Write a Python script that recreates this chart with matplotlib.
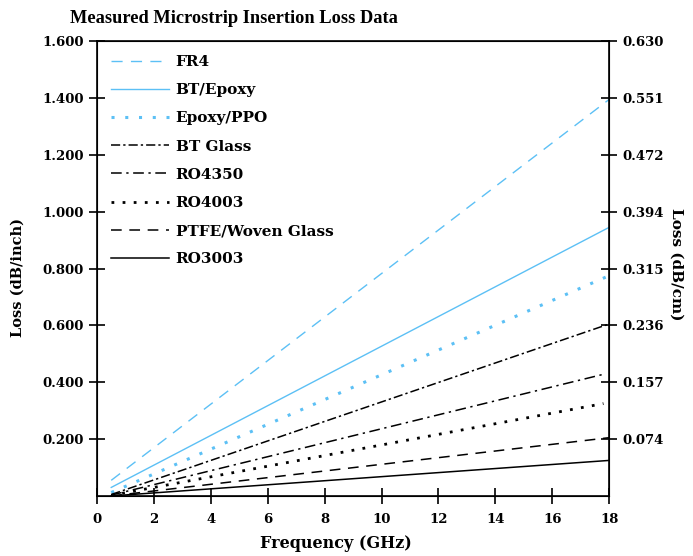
import matplotlib
matplotlib.use("Agg")
import matplotlib.pyplot as plt

# frequency points (GHz) and measured loss (dB/inch)
freq = [0.5, 18.0]
freq_short = [0.5, 17.8]

fr4 = [0.055, 1.395]
bt_epoxy = [0.030, 0.945]
epoxy_ppo = [0.012, 0.775]
bt_glass = [0.005, 0.605]
ro4350 = [0.003, 0.428]
ro4003 = [0.002, 0.325]
ptfe = [0.0, 0.205]
ro3003 = [0.0, 0.125]

left_ticks = [0.2, 0.4, 0.6, 0.8, 1.0, 1.2, 1.4, 1.6]
left_labels = ["0.200", "0.400", "0.600", "0.800", "1.000", "1.200", "1.400", "1.600"]
right_labels = ["0.074", "0.157", "0.236", "0.315", "0.394", "0.472", "0.551", "0.630"]
x_ticks = [0, 2, 4, 6, 8, 10, 12, 14, 16, 18]

blue = "#5cc0f5"
plt.rcParams['font.family'] = ['DejaVu Serif']
plt.rcParams['font.weight'] = 'bold'

fig = plt.figure(figsize=(6.93, 5.56), dpi=100)
ax = fig.add_axes([0.140, 0.108, 0.739, 0.818])

ax.plot(freq, fr4, color=blue, lw=1.0, dashes=(8, 6), label="FR4")
ax.plot(freq, bt_epoxy, color=blue, lw=1.0, label="BT/Epoxy")
ax.plot(freq, epoxy_ppo, color=blue, lw=2.2, dashes=(1, 3.5), label="Epoxy/PPO")
ax.plot(freq, bt_glass, color="black", lw=1.1, dashes=(6, 2, 1.5, 2), label="BT Glass")
ax.plot(freq_short, ro4350, color="black", lw=1.1, dashes=(7, 3, 1.5, 3), label="RO4350")
ax.plot(freq_short, ro4003, color="black", lw=2.0, dashes=(1, 3), label="RO4003")
ax.plot(freq, ptfe, color="black", lw=1.1, dashes=(7, 5), label="PTFE/Woven Glass")
ax.plot(freq, ro3003, color="black", lw=1.1, label="RO3003")

ax.set_xlim(0, 18)
ax.set_ylim(0, 1.6)
ax.set_xticks(x_ticks)
ax.set_xticklabels([str(t) for t in x_ticks])
ax.set_yticks(left_ticks)
ax.set_yticklabels(left_labels)
ax.tick_params(direction="inout", length=12, width=1.2, labelsize=9.5)
ax.tick_params(axis="x", pad=6)
for s in ax.spines.values():
    s.set_linewidth(1.2)

ax2 = ax.twinx()
ax2.set_ylim(0, 1.6)
ax2.set_yticks(left_ticks)
ax2.set_yticklabels(right_labels)
ax2.tick_params(direction="inout", length=12, width=1.2, labelsize=9.5)

ax.set_xlabel("Frequency (GHz)", fontsize=11.5, fontweight="bold")
ax.xaxis.set_label_coords(0.467, -0.085)
ax.set_ylabel("Loss (dB/inch)", fontsize=10.5, fontweight="bold")
ax.yaxis.set_label_coords(-0.142, 0.48)
ax2.set_ylabel("Loss (dB/cm)", fontsize=11, fontweight="bold", rotation=270)
ax2.yaxis.set_label_coords(1.145, 0.51)
fig.text(0.338, 0.966, "Measured Microstrip Insertion Loss Data", fontsize=13.2,
         family="Liberation Serif", fontweight="bold", ha="center", va="center")

leg = ax.legend(loc="upper left", frameon=False, handlelength=3.8, fontsize=11,
                labelspacing=0.93, borderaxespad=0.35, borderpad=0.55, handletextpad=0.45)

fig.savefig("out.png", dpi=100)
